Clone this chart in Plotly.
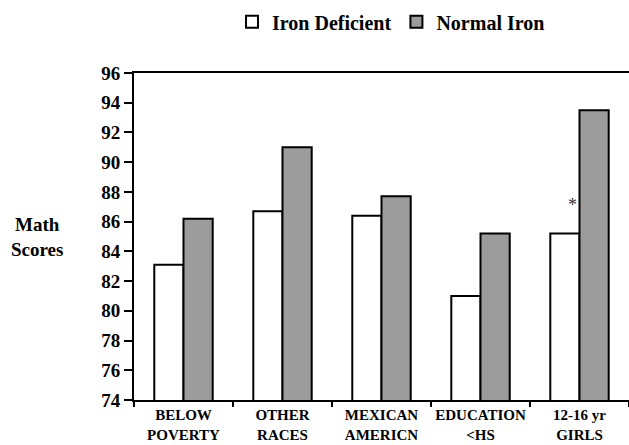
import plotly.graph_objects as go

categories = ["BELOW<br>POVERTY", "OTHER<br>RACES", "MEXICAN<br>AMERICN", "EDUCATION<br><HS", "12-16 yr<br>GIRLS"]
iron_deficient = [83.1, 86.7, 86.4, 81.0, 85.2]
normal_iron = [86.2, 91.0, 87.7, 85.2, 93.5]
y_ticks = list(range(74, 97, 2))
y_tick_labels = [f"<b>{v}</b>" for v in y_ticks]

font_family = "Liberation Serif"

fig = go.Figure()
fig.add_trace(go.Bar(
    x=categories, y=iron_deficient, name="<b>Iron Deficient</b>",
    marker=dict(color="white", line=dict(color="black", width=2)),
))
fig.add_trace(go.Bar(
    x=categories, y=normal_iron, name="<b>Normal Iron</b>",
    marker=dict(color="#9c9c9c", line=dict(color="black", width=2)),
))

fig.add_annotation(x=categories[4], y=87.1, text="*", showarrow=False,
                   xshift=-7, font=dict(size=18, color="#333", family=font_family))

fig.update_layout(
    width=629, height=445,
    margin=dict(l=134, r=0, t=73, b=45, autoexpand=False),
    paper_bgcolor="white", plot_bgcolor="white",
    barmode="group", bargap=0.41, bargroupgap=0,
    font=dict(family=font_family, color="black"),
    showlegend=True,
    legend=dict(orientation="h", x=0.198, xanchor="left", y=0.995, yanchor="top",
                yref="container",
                font=dict(size=20, family=font_family), itemwidth=30,
                traceorder="normal"),
    xaxis=dict(
        showline=True, linecolor="black", linewidth=2, mirror=True,
        ticks="outside", tickson="boundaries", ticklen=5, tickwidth=2, tickcolor="black",
        tickfont=dict(size=15, family=font_family), tickangle=0,
        showgrid=False, automargin=False,
        tickprefix="<b>", ticksuffix="</b>",
    ),
    yaxis=dict(
        range=[74, 96], tickmode="array", tickvals=y_ticks, ticktext=y_tick_labels,
        showline=True, linecolor="black", linewidth=2,
        ticks="outside", ticklen=8, tickwidth=2, tickcolor="black",
        tickfont=dict(size=19, family=font_family, weight="bold"),
        showgrid=False, zeroline=False, automargin=False,
    ),
)

fig.add_annotation(x=(37 - 134) / 495, xref="paper", y=0.5, yref="paper", xanchor="center",
                   text="<b>Math<br>Scores</b>", showarrow=False,
                   font=dict(size=19, family=font_family))

fig.write_html("out.html", config={"displayModeBar": False},
               post_script="document.body.style.margin='0';document.body.style.overflow='hidden';")
